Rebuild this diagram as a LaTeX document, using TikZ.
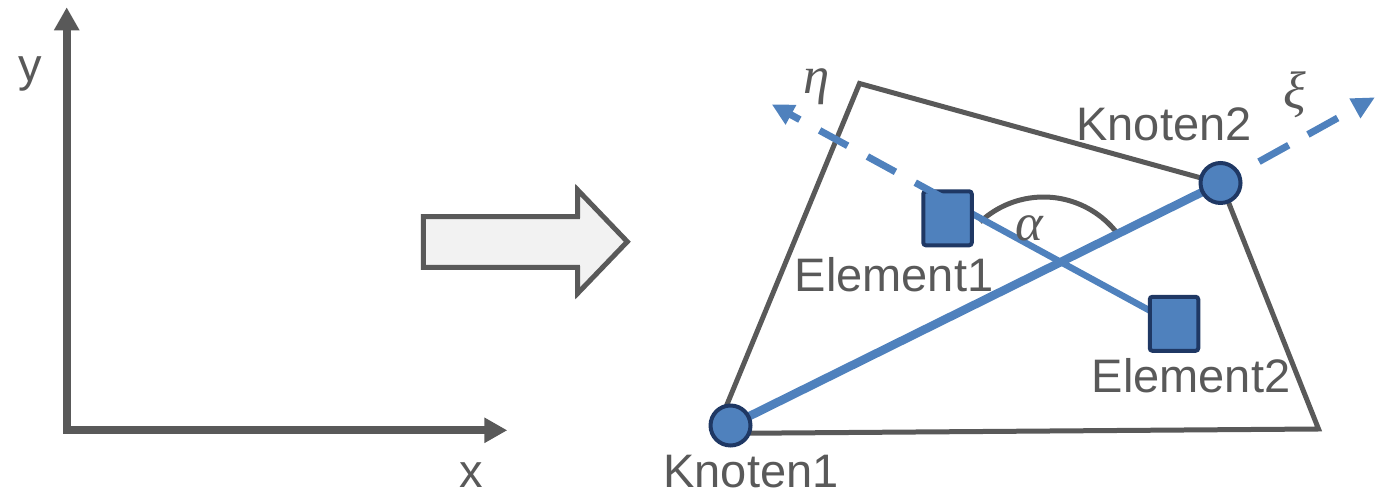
\documentclass[tikz,border=0pt]{standalone}
\usepackage{fontspec}
\setmainfont{Liberation Sans}
\newfontfamily\grk{Liberation Serif}
\usetikzlibrary{arrows.meta}
\definecolor{gr}{HTML}{595959}
\definecolor{bl}{HTML}{4F81BD}
\definecolor{dk}{HTML}{1F3864}
\definecolor{lf}{HTML}{F2F2F2}
\begin{document}
\begin{tikzpicture}[x=0.02cm,y=0.02cm,
  lbl/.style={text=gr, font=\fontsize{26.75}{32}\selectfont, inner sep=0, anchor=base},
  mlbl/.style={text=gr, font=\grk\itshape\fontsize{30}{32}\selectfont, inner sep=0},
  knot/.style={circle, fill=bl, draw=dk, line width=0.08cm, minimum size=0.8cm, inner sep=0},
  elem/.style={rectangle, rounded corners=1.5pt, fill=bl, draw=dk, line width=0.08cm, minimum width=0.97cm, minimum height=1.08cm, inner sep=0},
  axis/.style={gr, line width=0.16cm, {Triangle[length=0.46cm,width=0.48cm]}-{Triangle[length=0.46cm,width=0.48cm]}},
  edge/.style={gr, line width=0.1cm},
  dashaxis/.style={bl, line width=0.14cm}
]
\useasboundingbox (0,0) rectangle (1381,496);

% coordinate system
\coordinate (origin) at (66.7,65.7);
\coordinate (ytip) at (66.7,488.7);
\coordinate (xtip) at (507.3,65.7);
\draw[axis] (ytip) -- (origin) -- (xtip);
\node[lbl] (ly) at (30,414) {y};
\node[lbl] (lx) at (471,8) {x};

% block arrow
\draw[gr, fill=lf, line width=0.1cm] (423.3,279.3) -- (577.5,279.3) -- (577.7,306) -- (627.3,254.3) -- (577.7,202.7) -- (577.5,228.5) -- (423.3,228.5) -- cycle;

% positions
\coordinate (k1c) at (730.5,70.5);
\coordinate (k2c) at (1220.5,313);
\coordinate (e1c) at (947.5,277.7);
\coordinate (e2c) at (1174,172.2);
\coordinate (etastart) at (943.3,298);
\coordinate (etatip) at (771.7,391.7);
\coordinate (xitip) at (1375,398.7);
\coordinate (arcA) at (980.1,274);

% element outline
\draw[edge] (859.5,412.5) -- (1221,312.5) -- (1318.5,67) -- (715,62.5) -- cycle;

% angle
\draw[gr, line width=0.1cm] (arcA) arc[start angle=133, end angle=38, radius=1.86cm];

% connectors
\draw[bl, line width=0.13cm] (e2c) -- (etastart);
\draw[bl, line width=0.17cm] (k1c) -- (k2c);
\draw[dashaxis, dash pattern=on 0.68cm off 0.44cm, dash phase=0.24cm, -{Triangle[length=0.46cm,width=0.42cm]}] (k2c) -- (xitip);

% elements
\node[elem] (e1) at (e1c) {};
\node[elem] (e2) at (e2c) {};
\draw[dashaxis, dash pattern=on 0.64cm off 0.45cm, -{Triangle[length=0.44cm,width=0.42cm]}] (etastart) -- (etatip);

% nodes
\node[knot] (k1) at (k1c) {};
\node[knot] (k2) at (k2c) {};

% labels
\node[lbl] (lk1) at (751,8) {Knoten1};
\node[lbl] (lk2) at (1164,355) {Knoten2};
\node[lbl] (le1) at (894,204) {Element1};
\node[lbl] (le2) at (1191,103) {Element2};
\node[mlbl] (leta) at (816.7,409.3) {η};
\node[mlbl] (lxi) at (1295,401) {ξ};
\node[mlbl] (lal) at (1029,268) {α};
\end{tikzpicture}
\end{document}
